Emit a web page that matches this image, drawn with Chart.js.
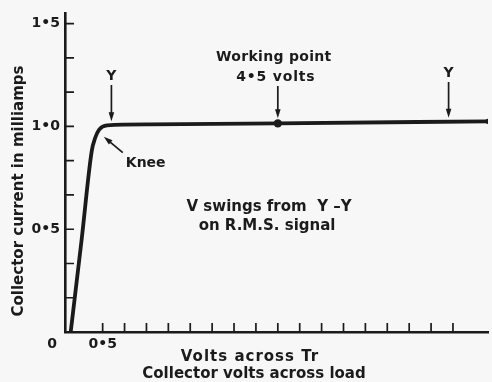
<!DOCTYPE html>
<html>
<head>
<meta charset="utf-8">
<script src="https://cdn.jsdelivr.net/npm/chart.js@4.4.0/dist/chart.umd.min.js"></script>
<style>
  html, body { margin: 0; padding: 0; background: #f7f7f7; }
  #wrap { width: 492px; height: 382px; }
</style>
</head>
<body>
<div id="wrap"><canvas id="chart"></canvas></div>
<script>
// Collector current against collector volts, with the knee and working point
const volts = [-0.23, 0.02, 0.25, 0.33, 0.42, 0.6, 1.6, 4.5, 9.3];
const milliamps = [0, 0.45, 0.88, 0.945, 0.985, 1.005, 1.01, 1.015, 1.025];

const xTickValues = [0.5, 1, 1.5, 2, 2.5, 3, 3.5, 4, 4.5, 5, 5.5, 6, 6.5, 7, 7.5, 8, 8.5];
const yTickValues = [0, 0.1667, 0.3333, 0.5, 0.6667, 0.8333, 1, 1.1667, 1.3333, 1.5];
const xTickLabels = { 0.5: '0•5' };
const yTickLabels = { 0.5: '0•5', 1: '1•0', 1.5: '1•5' };

const workingPoint = 4.5;
const swingMarks = [0.7, 8.4];
const kneePoint = { x: 0.48, y: 0.96 };

const INK = '#1b1b1b';
const FONT = '"DejaVu Sans", sans-serif';

function lineValueAt(v) {
    // current on the flat part of the curve, used to place the arrow tips
    for (let i = 1; i < volts.length; i++) {
        if (v <= volts[i]) {
            const t = (v - volts[i - 1]) / (volts[i] - volts[i - 1]);
            return milliamps[i - 1] + t * (milliamps[i] - milliamps[i - 1]);
        }
    }
    return milliamps[milliamps.length - 1];
}

function drawArrow(ctx, x1, y1, x2, y2) {
    const ang = Math.atan2(y2 - y1, x2 - x1);
    const len = 9, half = 2.8;
    ctx.beginPath();
    ctx.moveTo(x1, y1);
    ctx.lineTo(x2 - Math.cos(ang) * len * 0.8, y2 - Math.sin(ang) * len * 0.8);
    ctx.stroke();
    ctx.beginPath();
    ctx.moveTo(x2, y2);
    ctx.lineTo(x2 - Math.cos(ang) * len - Math.sin(ang) * half, y2 - Math.sin(ang) * len + Math.cos(ang) * half);
    ctx.lineTo(x2 - Math.cos(ang) * len + Math.sin(ang) * half, y2 - Math.sin(ang) * len - Math.cos(ang) * half);
    ctx.closePath();
    ctx.fill();
}

function text(ctx, str, x, y, size, spacing) {
    ctx.font = 'bold ' + size + 'px ' + FONT;
    ctx.letterSpacing = (spacing || 0) + 'px';
    ctx.fillText(str, x, y);
    ctx.letterSpacing = '0px';
}

const annotations = {
    id: 'annotations',
    afterDraw(chart) {
        const ctx = chart.ctx;
        const xs = chart.scales.x, ys = chart.scales.y;
        const y0 = ys.getPixelForValue(0);
        const x0 = xs.left;
        ctx.save();
        ctx.strokeStyle = INK;
        ctx.fillStyle = INK;

        // tick marks point inwards from both axes
        ctx.lineWidth = 1.7;
        ctx.beginPath();
        xTickValues.forEach(v => {
            const px = xs.getPixelForValue(v);
            ctx.moveTo(px, y0);
            ctx.lineTo(px, y0 - 9);
        });
        yTickValues.slice(1).forEach(v => {
            const py = ys.getPixelForValue(v);
            ctx.moveTo(x0, py);
            ctx.lineTo(x0 + 9, py);
        });
        ctx.stroke();

        ctx.textAlign = 'center';
        ctx.textBaseline = 'middle';
        text(ctx, '0', x0 - 13, y0 + 12, 14);

        // swing limits marked Y
        ctx.lineWidth = 1.7;
        swingMarks.forEach((v, i) => {
            const px = xs.getPixelForValue(v);
            const tip = ys.getPixelForValue(lineValueAt(v)) - 4;
            const top = i === 0 ? 76 : 73;
            text(ctx, 'Y', px, top, 14);
            drawArrow(ctx, px, top + 9, px, tip);
        });

        // working point
        const wx = xs.getPixelForValue(workingPoint);
        const wy = ys.getPixelForValue(lineValueAt(workingPoint));
        text(ctx, 'Working point', wx - 4, 57, 14, 0.3);
        text(ctx, '4•5 volts', wx - 2, 77, 14, 0.8);
        drawArrow(ctx, wx, 86, wx, wy - 5);

        // knee
        const kx = xs.getPixelForValue(kneePoint.x);
        const ky = ys.getPixelForValue(kneePoint.y);
        drawArrow(ctx, kx + 21, ky + 18, kx + 2, ky + 2);
        ctx.textAlign = 'left';
        text(ctx, 'Knee', kx + 24, ky + 29, 14);

        ctx.textAlign = 'center';
        const sx = xs.getPixelForValue(4.3);
        text(ctx, 'V swings from  Y \u2013Y', sx, ys.getPixelForValue(0.61), 15);
        text(ctx, 'on R.M.S. signal', sx - 2, ys.getPixelForValue(0.515), 15);

        // axis titles
        text(ctx, 'Volts across Tr', 250, 357, 15, 1);
        text(ctx, 'Collector volts across load', 254, 374, 15);
        ctx.translate(19, 191);
        ctx.rotate(-Math.PI / 2);
        text(ctx, 'Collector current in milliamps', 0, 0, 15);
        ctx.restore();
    }
};

new Chart(document.getElementById('chart'), {
    type: 'line',
    data: {
        datasets: [{
            data: volts.map((v, i) => ({ x: v, y: milliamps[i] })),
            borderColor: INK,
            backgroundColor: INK,
            borderWidth: 3.8,
            borderCapStyle: 'round',
            borderJoinStyle: 'round',
            cubicInterpolationMode: 'monotone',
            pointRadius: ctx => {
                const v = volts[ctx.dataIndex];
                return v === workingPoint ? 4.2 : (ctx.dataIndex === volts.length - 1 ? 2.6 : 0);
            },
            pointBorderWidth: 0
        }]
    },
    options: {
        responsive: true,
        maintainAspectRatio: false,
        animation: false,
        layout: { padding: { left: 0, right: 2, top: 10, bottom: 0 } },
        plugins: {
            legend: { display: false },
            tooltip: { enabled: false }
        },
        scales: {
            x: {
                type: 'linear',
                min: -0.36,
                max: 9.3,
                grid: { display: false, drawTicks: false },
                border: { display: true, color: INK, width: 2.6 },
                afterBuildTicks: scale => {
                    scale.ticks = xTickValues.map(v => ({ value: v }));
                },
                afterFit: scale => { scale.height = 50; },
                ticks: {
                    autoSkip: false,
                    maxRotation: 0,
                    padding: 4,
                    color: INK,
                    font: { family: FONT, size: 14, weight: 'bold' },
                    callback: v => xTickLabels[v] || ''
                }
            },
            y: {
                type: 'linear',
                min: 0,
                max: 1.55,
                grid: { display: false, drawTicks: false },
                border: { display: true, color: INK, width: 2.6 },
                afterBuildTicks: scale => {
                    scale.ticks = yTickValues.map(v => ({ value: v }));
                },
                afterFit: scale => { scale.width = 65; },
                ticks: {
                    autoSkip: false,
                    padding: 5,
                    color: INK,
                    font: { family: FONT, size: 14, weight: 'bold' },
                    callback: v => yTickLabels[v] || ''
                }
            }
        }
    },
    plugins: [annotations]
});
</script>
</body>
</html>
